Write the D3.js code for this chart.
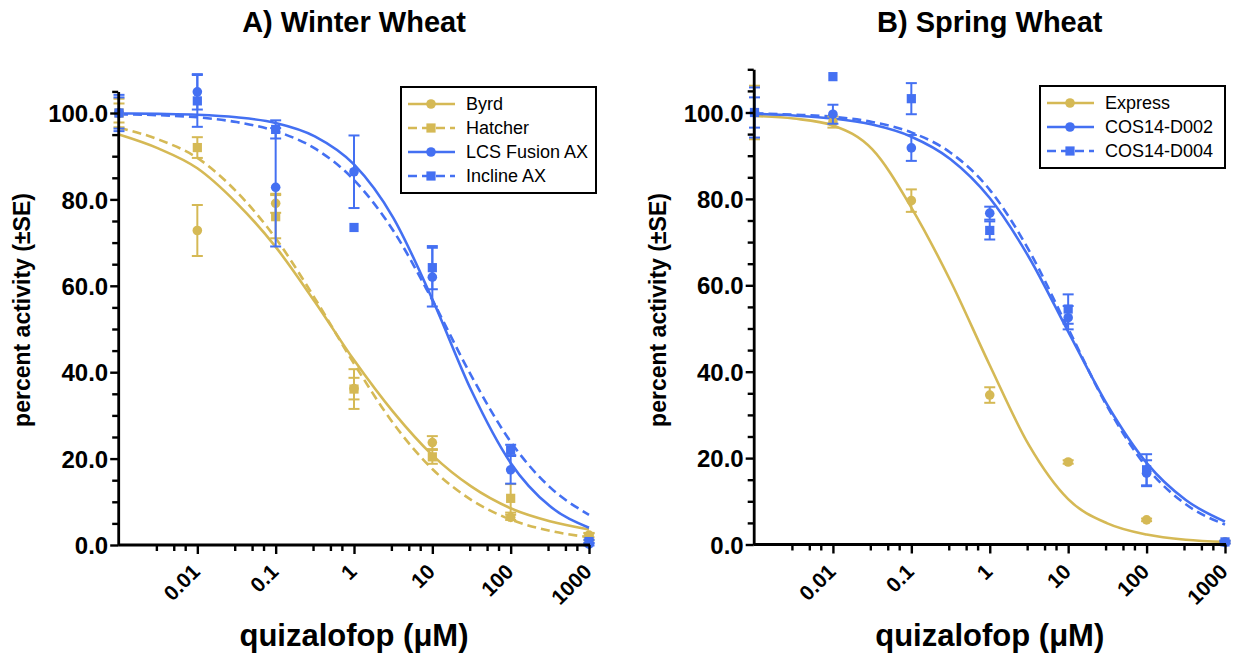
<!DOCTYPE html>
<html><head><meta charset="utf-8">
<script src="https://cdn.jsdelivr.net/npm/d3@7"></script>
<style>
html,body{margin:0;padding:0;background:#fff;}
svg{display:block;font-family:"Liberation Sans",Arial,Helvetica,sans-serif;}
</style></head><body>
<svg id="chart" width="1234" height="658"></svg>
<script>
// Quizalofop dose (µM); the untreated control sits at the left edge of the log axis
const doses = ["control", 0.01, 0.1, 1, 10, 100, 1000];
const controlDose = 0.001;
const xTickValues = [0.01, 0.1, 1, 10, 100, 1000];
const xTickLabels = ["0.01", "0.1", "1", "10", "100", "1000"];
const yTickValues = [0, 20, 40, 60, 80, 100];

// Dose-response fits, read every half decade from 0.001 to 1000 µM
const fitDoses = [0.001, 0.003162, 0.01, 0.03162, 0.1, 0.3162, 1, 3.162, 10, 31.62, 100, 316.2, 1000];

// A) Winter wheat: mean percent activity and standard error per dose
const byrdMean = [100, 72.8, 79.1, 36.2, 23.7, 6.4, 2.3];
const byrdSE = [3.3, 5.9, 2.2, 2.5, 1.5, 0.6, 0.5];
const hatcherMean = [100, 92.0, 76.0, 36.1, 20.4, 10.8, 1.9];
const hatcherSE = [2.2, 2.4, 5.0, 4.6, 1.6, 3.3, 0.8];
const lcsMean = [100, 104.9, 82.8, 86.4, 62.0, 17.4, 0.2];
const lcsSE = [4.2, 4.1, 13.7, 8.4, 6.8, 3.2, 0.3];
const inclineMean = [100, 102.8, 96.2, 73.5, 64.2, 22.0, 0.8];
const inclineSE = [3.6, 6.0, 2.1, 0, 5.0, 1.2, 0.4];

const byrdFit = [95.0, 91.8, 87.2, 79.2, 69.0, 56.3, 42.8, 30.8, 20.8, 13.5, 8.5, 5.5, 3.6];
const hatcherFit = [96.6, 93.9, 89.6, 81.8, 71.0, 57.1, 42.0, 28.2, 17.6, 10.4, 5.9, 3.3, 1.8];
const lcsFit = [99.9, 99.8, 99.6, 99.0, 97.7, 94.6, 88.1, 75.8, 56.9, 35.7, 19.0, 9.0, 4.0];
const inclineFit = [99.7, 99.5, 99.0, 97.9, 95.8, 91.8, 84.5, 72.8, 56.7, 39.1, 23.9, 13.4, 7.0];

// B) Spring wheat
const expressMean = [100, 97.8, 79.6, 34.6, 19.1, 5.7, 0.6];
const expressSE = [6.2, 1.3, 2.6, 1.8, 0.4, 0.3, 0.3];
const d002Mean = [100, 99.6, 91.8, 76.7, 52.5, 16.5, 0.5];
const d002SE = [3.5, 2.2, 3.0, 1.5, 2.7, 3.0, 0.3];
const d004Mean = [100, 108.3, 103.2, 72.7, 54.5, 17.3, 0.6];
const d004SE = [5.8, 0, 3.6, 2.1, 3.4, 3.6, 0.3];

const expressFit = [99.2, 98.6, 97.0, 91.5, 78.0, 61.0, 41.5, 23.0, 10.5, 4.9, 2.3, 1.1, 0.6];
const d002Fit = [99.7, 99.3, 98.6, 97.2, 94.4, 89.2, 80.2, 66.5, 49.3, 32.3, 18.9, 10.3, 5.3];
const d004Fit = [99.8, 99.5, 99.0, 97.8, 95.4, 90.7, 82.1, 68.1, 50.0, 31.9, 17.9, 9.3, 4.6];

const GOLD = "#d5b955";
const BLUE = "#4470f2";

const panels = [
  {
    title: "A) Winter Wheat", left: 119, right: 589, yMax: 105, bottom: 545,
    legend: {x: 401, y: 87, w: 195, h: 106},
    series: [
      {name: "Byrd", color: GOLD, dashed: false, shape: "circle", mean: byrdMean, se: byrdSE, fit: byrdFit},
      {name: "Hatcher", color: GOLD, dashed: true, shape: "square", mean: hatcherMean, se: hatcherSE, fit: hatcherFit},
      {name: "LCS Fusion AX", color: BLUE, dashed: false, shape: "circle", mean: lcsMean, se: lcsSE, fit: lcsFit},
      {name: "Incline AX", color: BLUE, dashed: true, shape: "square", mean: inclineMean, se: inclineSE, fit: inclineFit}
    ]
  },
  {
    title: "B) Spring Wheat", left: 754.5, right: 1225, yMax: 110, bottom: 544.5,
    legend: {x: 1040, y: 86, w: 185, h: 82},
    series: [
      {name: "Express", color: GOLD, dashed: false, shape: "circle", mean: expressMean, se: expressSE, fit: expressFit},
      {name: "COS14-D002", color: BLUE, dashed: false, shape: "circle", mean: d002Mean, se: d002SE, fit: d002Fit},
      {name: "COS14-D004", color: BLUE, dashed: true, shape: "square", mean: d004Mean, se: d004SE, fit: d004Fit}
    ]
  }
];

const svg = d3.select("#chart");
const doseValue = d => d === "control" ? controlDose : d;

function drawMarker(g, shape, cx, cy, color) {
  if (shape === "circle") {
    g.append("circle").attr("cx", cx).attr("cy", cy).attr("r", 4.8).attr("fill", color);
  } else {
    g.append("rect").attr("x", cx - 4.6).attr("y", cy - 4.6)
      .attr("width", 9.2).attr("height", 9.2).attr("fill", color);
  }
}

panels.forEach(p => {
  const x = d3.scaleLog().domain([controlDose, 1000]).range([p.left, p.right]);
  const pxPerUnit = 4.32;
  const y = d3.scaleLinear().domain([0, p.yMax]).range([p.bottom, p.bottom - p.yMax * pxPerUnit]);
  const g = svg.append("g");
  const axisX = p.left - 0.8;
  const centerX = (p.left + p.right) / 2;

  // title
  g.append("text").attr("x", centerX).attr("y", 32).attr("text-anchor", "middle")
    .attr("font-size", 29).attr("font-weight", "bold").text(p.title);

  // fitted curves
  const line = d3.line().x(d => x(d[0])).y(d => y(d[1])).curve(d3.curveMonotoneX);
  p.series.forEach(s => {
    g.append("path").datum(fitDoses.map((d, i) => [d, s.fit[i]]))
      .attr("d", line).attr("fill", "none").attr("stroke", s.color)
      .attr("stroke-width", 2.6).attr("stroke-dasharray", s.dashed ? "9,5" : null);
  });

  // error bars and points
  p.series.forEach(s => {
    const sg = g.append("g");
    doses.forEach((d, i) => {
      const cx = x(doseValue(d));
      const m = s.mean[i], e = s.se[i];
      if (e > 0) {
        const y1 = y(m + e), y2 = y(m - e);
        sg.append("line").attr("x1", cx).attr("x2", cx).attr("y1", y1).attr("y2", y2)
          .attr("stroke", s.color).attr("stroke-width", 2);
        [y1, y2].forEach(yy => sg.append("line").attr("x1", cx - 5.5).attr("x2", cx + 5.5)
          .attr("y1", yy).attr("y2", yy).attr("stroke", s.color).attr("stroke-width", 2));
      }
      drawMarker(sg, s.shape, cx, y(m), s.color);
    });
  });

  // y axis: major ticks every 20, minor every 5
  const minorY = d3.range(0, p.yMax + 0.1, 5).filter(v => v % 20 !== 0);
  const yAxis = g.append("g").attr("transform", `translate(${axisX},0)`)
    .call(d3.axisLeft(y).tickValues(yTickValues).tickFormat(d3.format(".1f")).tickSize(8).tickPadding(2).tickSizeOuter(0));
  g.append("g").attr("transform", `translate(${axisX},0)`)
    .call(d3.axisLeft(y).tickValues(minorY).tickFormat("").tickSize(6).tickSizeOuter(0))
    .select(".domain").remove();

  // x axis: log decades with minor ticks at 3, 5 and 7
  const minorX = [];
  [0.001, 0.01, 0.1, 1, 10, 100].forEach(dec => [3, 5, 7].forEach(k => minorX.push(dec * k)));
  const xAxis = g.append("g").attr("transform", `translate(0,${p.bottom})`)
    .call(d3.axisBottom(x).tickValues(xTickValues).tickFormat("").tickSize(9).tickSizeOuter(0));
  g.append("g").attr("transform", `translate(0,${p.bottom})`)
    .call(d3.axisBottom(x).tickValues(minorX).tickFormat("").tickSize(6).tickSizeOuter(0))
    .select(".domain").remove();
  xAxis.select(".domain").attr("d", `M${axisX},0H${p.right + 1}`);

  g.selectAll(".domain").attr("stroke", "#000").attr("stroke-width", 2.8);
  g.selectAll(".tick line").attr("stroke", "#000").attr("stroke-width", 2.4);
  yAxis.selectAll(".tick text").attr("font-size", 24).attr("font-weight", "bold")
    .attr("fill", "#000").attr("dy", "0.36em");

  // rotated x tick labels
  xTickValues.forEach((v, i) => {
    g.append("text").attr("transform", `translate(${x(v) + 4},573) rotate(-45)`)
      .attr("text-anchor", "end").attr("font-size", 21).attr("font-weight", "bold")
      .text(xTickLabels[i]);
  });

  // axis titles
  g.append("text").attr("x", centerX).attr("y", 646).attr("text-anchor", "middle")
    .attr("font-size", 31).attr("font-weight", "bold").text("quizalofop (μM)");
  g.append("text").attr("transform", `translate(${p.left - 89},310) rotate(-90)`)
    .attr("text-anchor", "middle").attr("font-size", 23).attr("font-weight", "bold")
    .text("percent activity (±SE)");

  // legend
  const L = p.legend;
  const lg = g.append("g");
  lg.append("rect").attr("x", L.x).attr("y", L.y).attr("width", L.w).attr("height", L.h)
    .attr("fill", "#fff").attr("stroke", "#000").attr("stroke-width", 2);
  p.series.forEach((s, i) => {
    const ry = L.y + 17 + i * 24;
    lg.append("line").attr("x1", L.x + 7).attr("x2", L.x + 54).attr("y1", ry).attr("y2", ry)
      .attr("stroke", s.color).attr("stroke-width", 2.6)
      .attr("stroke-dasharray", s.dashed ? "9,5" : null);
    drawMarker(lg, s.shape, L.x + 30, ry, s.color);
    lg.append("text").attr("x", L.x + 65).attr("y", ry).attr("dy", "0.35em")
      .attr("font-size", 18).text(s.name);
  });
});
</script>
</body></html>
